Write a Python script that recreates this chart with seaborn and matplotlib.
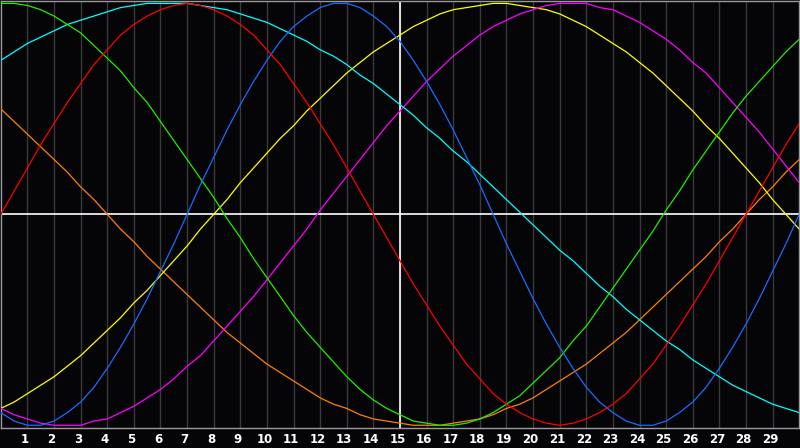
import pandas as pd
import matplotlib
matplotlib.use("Agg")
import matplotlib.pyplot as plt
import matplotlib.transforms as mtransforms
import seaborn as sns

# half-day steps from day 0 to day 30, ticks shown for 1..29
days = [k / 2 for k in range(61)]
tick_days = list(range(1, 30))

# values every half day, range -1..1
red = [0.00, 0.11, 0.22, 0.33, 0.43, 0.53, 0.62, 0.71, 0.78, 0.85, 0.90, 0.94, 0.97, 0.99, 1.00,
       0.99, 0.97, 0.94, 0.90, 0.85, 0.78, 0.71, 0.62, 0.53, 0.43, 0.33, 0.22, 0.11, 0.00,
       -0.11, -0.22, -0.33, -0.43, -0.53, -0.62, -0.71, -0.78, -0.85, -0.90, -0.94, -0.97, -0.99, -1.00,
       -0.99, -0.97, -0.94, -0.90, -0.85, -0.78, -0.71, -0.62, -0.53, -0.43, -0.33, -0.22, -0.11, 0.00,
       0.11, 0.22, 0.33, 0.43]
green = [1.00, 1.00, 0.99, 0.97, 0.94, 0.90, 0.86, 0.80, 0.74, 0.68, 0.60, 0.53, 0.44, 0.35, 0.26,
         0.17, 0.08, -0.02, -0.11, -0.21, -0.30, -0.39, -0.48, -0.56, -0.63, -0.70, -0.77, -0.83, -0.88,
         -0.92, -0.95, -0.98, -0.99, -1.00, -1.00, -0.99, -0.97, -0.94, -0.90, -0.86, -0.80, -0.74, -0.68,
         -0.60, -0.53, -0.44, -0.35, -0.26, -0.17, -0.08, 0.02, 0.11, 0.21, 0.30, 0.39, 0.48, 0.56,
         0.63, 0.70, 0.77, 0.83]
blue = [-0.94, -0.98, -1.00, -1.00, -0.98, -0.94, -0.89, -0.82, -0.73, -0.63, -0.52, -0.40, -0.27, -0.14, 0.00,
        0.14, 0.27, 0.40, 0.52, 0.63, 0.73, 0.82, 0.89, 0.94, 0.98, 1.00, 1.00, 0.98, 0.94,
        0.89, 0.82, 0.73, 0.63, 0.52, 0.40, 0.27, 0.14, 0.00, -0.14, -0.27, -0.40, -0.52, -0.63,
        -0.73, -0.82, -0.89, -0.94, -0.98, -1.00, -1.00, -0.98, -0.94, -0.89, -0.82, -0.73, -0.63, -0.52,
        -0.40, -0.27, -0.14, 0.00]
cyan = [0.73, 0.77, 0.81, 0.84, 0.87, 0.90, 0.92, 0.94, 0.96, 0.98, 0.99, 1.00, 1.00, 1.00, 1.00,
        0.99, 0.98, 0.97, 0.95, 0.93, 0.91, 0.88, 0.85, 0.82, 0.78, 0.75, 0.71, 0.66, 0.62,
        0.57, 0.52, 0.47, 0.41, 0.36, 0.30, 0.25, 0.19, 0.13, 0.07, 0.01, -0.05, -0.11, -0.17,
        -0.22, -0.28, -0.34, -0.39, -0.45, -0.50, -0.55, -0.60, -0.64, -0.69, -0.73, -0.77, -0.81, -0.84,
        -0.87, -0.90, -0.92, -0.94]
yellow = [-0.92, -0.89, -0.85, -0.81, -0.77, -0.72, -0.67, -0.61, -0.55, -0.49, -0.42, -0.36, -0.29, -0.22, -0.15,
          -0.07, 0.00, 0.07, 0.15, 0.22, 0.29, 0.36, 0.42, 0.49, 0.55, 0.61, 0.67, 0.72, 0.77,
          0.81, 0.85, 0.89, 0.92, 0.95, 0.97, 0.98, 0.99, 1.00, 1.00, 0.99, 0.98, 0.97, 0.95,
          0.92, 0.89, 0.85, 0.81, 0.77, 0.72, 0.67, 0.61, 0.55, 0.49, 0.42, 0.36, 0.29, 0.22,
          0.15, 0.07, 0.00, -0.07]
magenta = [-0.92, -0.95, -0.97, -0.99, -1.00, -1.00, -1.00, -0.98, -0.97, -0.94, -0.91, -0.87, -0.83, -0.78, -0.72,
           -0.67, -0.60, -0.53, -0.46, -0.39, -0.31, -0.23, -0.15, -0.07, 0.02, 0.10, 0.18, 0.26, 0.34,
           0.42, 0.49, 0.56, 0.63, 0.69, 0.75, 0.80, 0.85, 0.89, 0.92, 0.95, 0.97, 0.99, 1.00,
           1.00, 1.00, 0.98, 0.97, 0.94, 0.91, 0.87, 0.83, 0.78, 0.72, 0.67, 0.60, 0.53, 0.46,
           0.39, 0.31, 0.23, 0.15]
orange = [0.50, 0.44, 0.38, 0.32, 0.26, 0.20, 0.13, 0.07, 0.00, -0.07, -0.13, -0.20, -0.26, -0.32, -0.38,
          -0.44, -0.50, -0.56, -0.61, -0.66, -0.71, -0.75, -0.79, -0.83, -0.87, -0.90, -0.92, -0.95, -0.97,
          -0.98, -0.99, -1.00, -1.00, -1.00, -0.99, -0.98, -0.97, -0.95, -0.92, -0.90, -0.87, -0.83, -0.79,
          -0.75, -0.71, -0.66, -0.61, -0.56, -0.50, -0.44, -0.38, -0.32, -0.26, -0.20, -0.13, -0.07, 0.00,
          0.07, 0.13, 0.20, 0.26]

series = {"orange": orange, "yellow": yellow, "magenta": magenta, "cyan": cyan,
          "green": green, "blue": blue, "red": red}
colors = {"orange": "#ff8000", "yellow": "#ffff00", "magenta": "#ff00ff", "cyan": "#00ffff",
          "green": "#22ee00", "blue": "#1a6cff", "red": "#ff0000"}

df = pd.concat([pd.DataFrame({"day": days, "value": v, "cycle": k}) for k, v in series.items()])

sns.set_style("dark")
plt.rcParams['font.family'] = ['DejaVu Sans']

fig = plt.figure(figsize=(8, 4.48), dpi=100, facecolor="#050508")
ax = fig.add_axes([0.001, 0.0446, 0.998, 0.954])
ax.set_facecolor("#050508")

# day grid first so the curves sit on top
for d in tick_days:
    ax.axvline(d, color="#3a3a3a", lw=1.0, zorder=1)
ax.axvline(15, color="white", lw=1.2, zorder=2)
ax.axhline(0, color="white", lw=1.2, zorder=2)

sns.lineplot(data=df, x="day", y="value", hue="cycle", palette=colors,
             linewidth=0.9, legend=False, ax=ax, zorder=3)

ax.set_xlim(0, 30)
ax.set_ylim(-1.013, 1.013)
ax.set_xticks(tick_days)
ax.set_xticklabels([str(d) for d in tick_days], color="white", fontsize=8.5, fontweight="bold")
ax.set_yticks([])
ax.tick_params(axis="x", length=0, pad=3.5)
ax.set_xlabel("")
ax.set_ylabel("")
ax.grid(False)

# labels sit slightly left of their grid line
shift = mtransforms.ScaledTranslation(-2.5 / 100, 0, fig.dpi_scale_trans)
for lab in ax.get_xticklabels():
    lab.set_transform(lab.get_transform() + shift)

for side in ["left", "top", "bottom", "right"]:
    ax.spines[side].set_color("#9a9a9a")
    ax.spines[side].set_linewidth(1.0)
    ax.spines[side].set_visible(True)

fig.savefig("out.png", dpi=100, facecolor=fig.get_facecolor())
